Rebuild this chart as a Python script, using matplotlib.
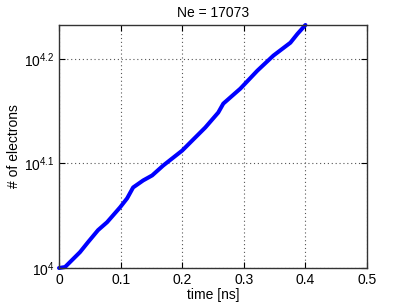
import matplotlib
matplotlib.use('Agg')
import matplotlib.pyplot as plt
import numpy as np

plt.rcParams['font.family'] = ['Liberation Sans', 'DejaVu Sans']
plt.rcParams['mathtext.fontset'] = 'custom'
plt.rcParams['mathtext.rm'] = 'Liberation Sans'

# time in ns, number of electrons
time_ns = [0.0, 0.0098, 0.0179, 0.0341, 0.0472, 0.0634, 0.078, 0.0992, 0.1106,
           0.1203, 0.1366, 0.1512, 0.1691, 0.2, 0.2163, 0.2374, 0.2585, 0.2667,
           0.2943, 0.322, 0.348, 0.3756, 0.387, 0.4]
electrons = [10000, 10022, 10132, 10356, 10587, 10870, 11060, 11430, 11658,
             11940, 12126, 12260, 12530, 12950, 13240, 13623, 14080, 14360,
             14840, 15440, 15960, 16420, 16740, 17073]
Ne = 17073

xticks = [0, 0.1, 0.2, 0.3, 0.4, 0.5]
yexp = [4, 4.1, 4.2]

fig = plt.figure(figsize=(4.05, 3.07), dpi=100)
ax = fig.add_axes([0.1457, 0.127, 0.7605, 0.7916])

ax.plot(time_ns, electrons, color='#0000ff', linewidth=2.9,
        solid_capstyle='round', solid_joinstyle='round', clip_on=False)

ax.set_yscale('log')
ax.set_xlim(0, 0.5)
ax.set_ylim(10000, Ne)
ax.set_xticks(xticks)
ax.set_xticklabels(['0', '0.1', '0.2', '0.3', '0.4', '0.5'])
ax.set_yticks([10 ** e for e in yexp])
ax.set_yticklabels([r'$\mathregular{10^{%g}}$' % e for e in yexp])
ax.yaxis.set_minor_locator(matplotlib.ticker.NullLocator())

ax.grid(True, linestyle=(0, (1, 2.5)), color='#555555', linewidth=0.8)
ax.tick_params(direction='in', top=True, right=True, labelsize=10, length=4, width=0.8)
for s in ax.spines.values():
    s.set_linewidth(1.0)
    s.set_color('#333333')

ax.set_title('Ne = %d' % Ne, fontsize=10, pad=6)
ax.set_xlabel('time [ns]', fontsize=10, labelpad=1)
ax.set_ylabel('# of electrons', fontsize=10, labelpad=2)

fig.savefig('out.png', dpi=100)
